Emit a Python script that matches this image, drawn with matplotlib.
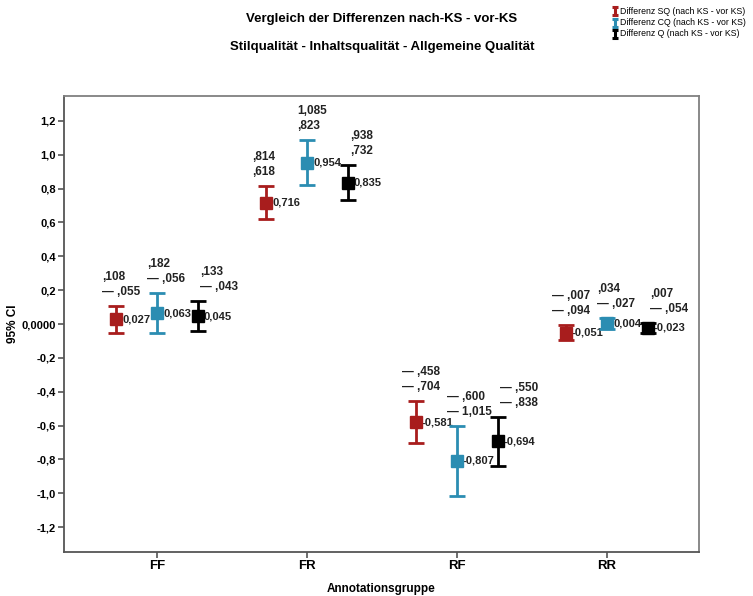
import numpy as np
import matplotlib
matplotlib.use("Agg")
import matplotlib.pyplot as plt
from matplotlib.lines import Line2D

plt.rcParams['font.family'] = ['Liberation Sans', 'DejaVu Sans']

groups = ['FF', 'FR', 'RF', 'RR']
series = ['Differenz SQ (nach KS - vor KS)',
          'Differenz CQ (nach KS - vor KS)',
          'Differenz Q (nach KS - vor KS)']

# means and 95% CI per series (order FF, FR, RF, RR)
sq_mean = [0.027, 0.716, -0.581, -0.051]
sq_low = [-0.055, 0.618, -0.704, -0.094]
sq_high = [0.108, 0.814, -0.458, -0.007]

cq_mean = [0.063, 0.954, -0.807, 0.004]
cq_low = [-0.056, 0.823, -1.015, -0.027]
cq_high = [0.182, 1.085, -0.600, 0.034]

q_mean = [0.045, 0.835, -0.694, -0.023]
q_low = [-0.043, 0.732, -0.838, -0.054]
q_high = [0.133, 0.938, -0.550, 0.007]

yticks = [1.2, 1.0, 0.8, 0.6, 0.4, 0.2, 0.0, -0.2, -0.4, -0.6, -0.8, -1.0, -1.2]
ytick_labels = ['1,2', '1,0', '0,8', '0,6', '0,4', '0,2', '0,0000',
                '-0,2', '-0,4', '-0,6', '-0,8', '-1,0', '-1,2']

colors = ['#a81d1d', '#2b8db2', '#000000']
shift = [-0.273, 0.0, 0.273]
label_dx = [-14, -10, 2]   # px offset of the CI labels per series


def spss_fmt(v, mean=False):
    # SPSS style: ,108 / — ,055 for CI; 0,027 / -0,581 for means
    s = ('%.3f' % abs(v)).replace('.', ',')
    if mean:
        return ('-' if v < 0 else '') + s
    if s.startswith('0'):
        s = s[1:]
    return ('— ' if v < 0 else '') + s


fig = plt.figure(figsize=(7.53, 5.96), dpi=100)
ax = fig.add_axes([64 / 753, 44 / 596, 635 / 753, 456 / 596])

x = np.arange(len(groups))
px = 0.72  # points per pixel
data = [(sq_mean, sq_low, sq_high), (cq_mean, cq_low, cq_high), (q_mean, q_low, q_high)]
for i, (m, lo, hi) in enumerate(data):
    m = np.array(m); lo = np.array(lo); hi = np.array(hi)
    xs = x + shift[i]
    ax.errorbar(xs, m, yerr=[m - lo, hi - m], fmt='s', color=colors[i],
                ecolor=colors[i], elinewidth=2.0, capsize=6, capthick=2.0,
                markersize=9, zorder=3)
    for xx, mm, ll, hh in zip(xs, m, lo, hi):
        ax.annotate(spss_fmt(mm, True), (xx, mm), xytext=(6 * px, 0),
                    textcoords='offset points', ha='left', va='center',
                    fontsize=8, fontweight='bold', color='#222222')
        ax.annotate(spss_fmt(ll), (xx, hh), xytext=(label_dx[i] * px, 14 * px),
                    textcoords='offset points', ha='left', va='center',
                    fontsize=8.5, fontweight='bold', color='#222222')
        ax.annotate(spss_fmt(hh), (xx, hh), xytext=(label_dx[i] * px, 29 * px),
                    textcoords='offset points', ha='left', va='center',
                    fontsize=8.5, fontweight='bold', color='#222222')

ax.set_xlim(-0.62, 3.613)
ax.set_ylim(-1.3475, 1.3475)
ax.set_xticks(x)
ax.set_xticklabels(groups, fontsize=9.5, fontweight='bold')
ax.set_yticks(yticks)
ax.set_yticklabels(ytick_labels, fontsize=8, fontweight='bold')
ax.tick_params(axis='both', length=4, width=1.2, color='#555555', pad=2)
for sp in ax.spines.values():
    sp.set_color('#808080')
    sp.set_linewidth(1.3)
ax.spines['left'].set_color('#555555')
ax.spines['bottom'].set_color('#555555')

ax.set_ylabel('95% CI', fontsize=8.5, fontweight='bold')
ax.yaxis.set_label_coords((19 - 64) / 635, 0.5)
ax.set_xlabel('Annotationsgruppe', fontsize=8.5, fontweight='bold', labelpad=8)

fig.text(382 / 753, 1 - 19 / 596, 'Vergleich der Differenzen nach-KS - vor-KS',
         ha='center', va='center', fontsize=9.5, fontweight='bold')
fig.text(382 / 753, 1 - 47 / 596, 'Stilqualität - Inhaltsqualität - Allgemeine Qualität',
         ha='center', va='center', fontsize=9.5, fontweight='bold')

# legend: small I-beam icons + labels
W, H = 753.0, 596.0
for i, (lab, c) in enumerate(zip(series, colors)):
    yc = 11 + i * 11.5
    xc = 615
    for seg in [((xc, xc), (yc - 4, yc + 4)),
                ((xc - 3, xc + 3), (yc - 4, yc - 4)),
                ((xc - 3, xc + 3), (yc + 4, yc + 4))]:
        fig.add_artist(Line2D([v / W for v in seg[0]], [1 - v / H for v in seg[1]],
                              color=c, lw=2.2, solid_capstyle='butt'))
    fig.text(620 / W, 1 - yc / H, lab, ha='left', va='center', fontsize=6.3)

fig.savefig('out.png', dpi=100)
